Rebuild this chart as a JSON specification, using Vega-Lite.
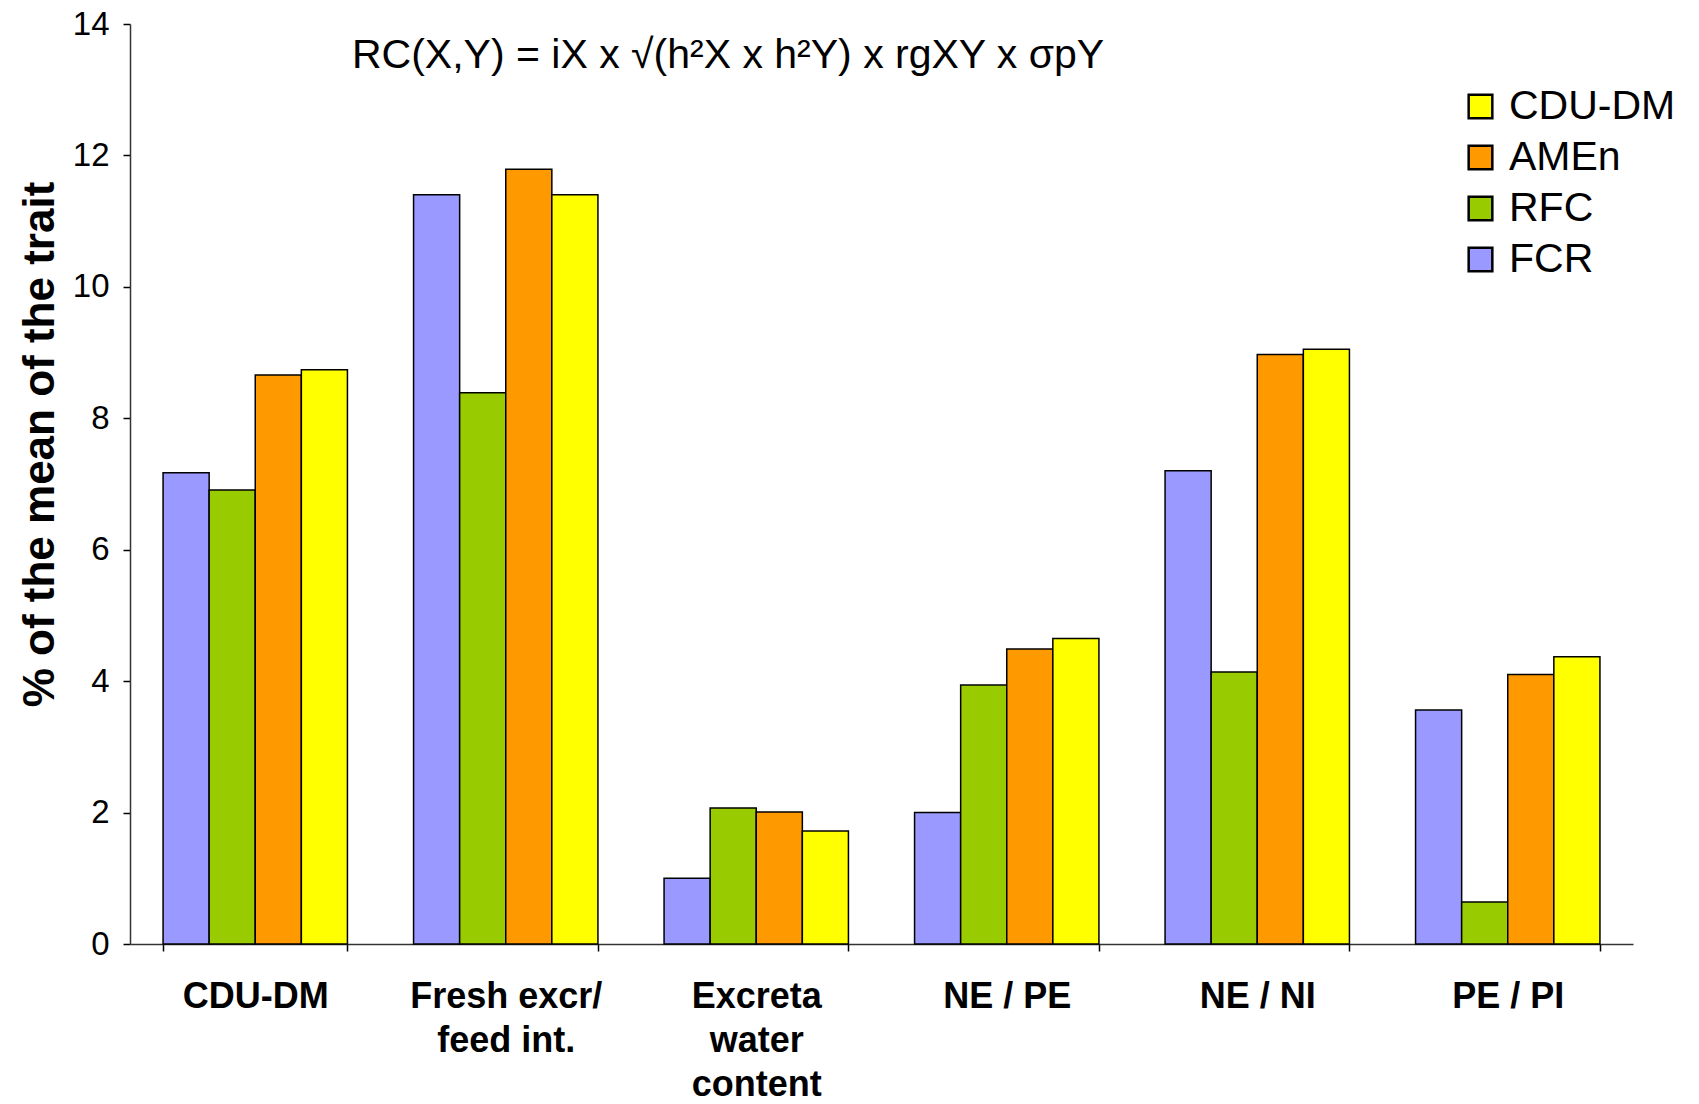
{
  "$schema": "https://vega.github.io/schema/vega-lite/v6.json",
  "autosize": {"type": "none"},
  "width": 1503,
  "height": 920,
  "padding": {"left": 130, "top": 24, "right": 66, "bottom": 160},
  "background": "white",
  "title": {
    "text": "RC(X,Y) = iX x √(h²X x h²Y) x rgXY x σpY",
    "anchor": "start",
    "frame": "group",
    "orient": "top",
    "baseline": "alphabetic",
    "offset": -66,
    "dx": 222,
    "dy": 35,
    "font": "Liberation Sans, Arial, sans-serif",
    "fontSize": 41,
    "fontWeight": "normal",
    "color": "black"
  },
  "data": {
    "values": [
      {"trait": "CDU-DM", "series": "FCR", "value": 7.17},
      {"trait": "CDU-DM", "series": "RFC", "value": 6.91},
      {"trait": "CDU-DM", "series": "AMEn", "value": 8.66},
      {"trait": "CDU-DM", "series": "CDU-DM", "value": 8.74},
      {"trait": "Fresh excr/|feed int.", "series": "FCR", "value": 11.4},
      {"trait": "Fresh excr/|feed int.", "series": "RFC", "value": 8.39},
      {"trait": "Fresh excr/|feed int.", "series": "AMEn", "value": 11.79},
      {"trait": "Fresh excr/|feed int.", "series": "CDU-DM", "value": 11.4},
      {"trait": "Excreta|water|content", "series": "FCR", "value": 1.0},
      {"trait": "Excreta|water|content", "series": "RFC", "value": 2.07},
      {"trait": "Excreta|water|content", "series": "AMEn", "value": 2.01},
      {"trait": "Excreta|water|content", "series": "CDU-DM", "value": 1.72},
      {"trait": "NE / PE", "series": "FCR", "value": 2.0},
      {"trait": "NE / PE", "series": "RFC", "value": 3.94},
      {"trait": "NE / PE", "series": "AMEn", "value": 4.49},
      {"trait": "NE / PE", "series": "CDU-DM", "value": 4.65},
      {"trait": "NE / NI", "series": "FCR", "value": 7.2},
      {"trait": "NE / NI", "series": "RFC", "value": 4.14},
      {"trait": "NE / NI", "series": "AMEn", "value": 8.97},
      {"trait": "NE / NI", "series": "CDU-DM", "value": 9.05},
      {"trait": "PE / PI", "series": "FCR", "value": 3.56},
      {"trait": "PE / PI", "series": "RFC", "value": 0.64},
      {"trait": "PE / PI", "series": "AMEn", "value": 4.1},
      {"trait": "PE / PI", "series": "CDU-DM", "value": 4.37}
    ]
  },
  "mark": {"type": "bar", "stroke": "black", "strokeWidth": 1.5},
  "encoding": {
    "x": {
      "field": "trait",
      "type": "nominal",
      "sort": null,
      "scale": {"paddingInner": 0.264, "paddingOuter": 0.132},
      "axis": {
        "title": null,
        "labelAngle": 0,
        "labelExpr": "split(datum.label, '|')",
        "labelFont": "Liberation Sans, Arial, sans-serif",
        "labelFontWeight": "bold",
        "labelFontSize": 36,
        "labelLineHeight": 44,
        "labelLimit": 400,
        "labelColor": "black",
        "labelPadding": 28,
        "labelBaseline": "top",
        "tickBand": "extent",
        "tickSize": 7,
        "tickColor": "black",
        "domainColor": "#333333",
        "domainWidth": 1.5,
        "tickWidth": 1.5
      }
    },
    "xOffset": {
      "field": "series",
      "type": "nominal",
      "sort": ["FCR", "RFC", "AMEn", "CDU-DM"],
      "scale": {"paddingInner": 0, "paddingOuter": 0}
    },
    "y": {
      "field": "value",
      "type": "quantitative",
      "scale": {"domain": [0, 14], "nice": false},
      "axis": {
        "values": [0, 2, 4, 6, 8, 10, 12, 14],
        "grid": false,
        "title": "% of the mean of the trait",
        "titleFont": "Liberation Sans, Arial, sans-serif",
        "titleFontWeight": "bold",
        "titleFontSize": 44,
        "titleColor": "black",
        "titleX": -90,
        "titleY": 420,
        "titleAngle": -90,
        "titleAlign": "center",
        "titleBaseline": "middle",
        "labelFont": "Liberation Sans, Arial, sans-serif",
        "labelFontSize": 33,
        "labelColor": "black",
        "labelPadding": 14,
        "tickSize": 7,
        "tickColor": "black",
        "tickWidth": 1.5,
        "domainColor": "#333333",
        "domainWidth": 1.5
      }
    },
    "color": {
      "field": "series",
      "type": "nominal",
      "scale": {
        "domain": ["FCR", "RFC", "AMEn", "CDU-DM"],
        "range": ["#9999FF", "#99CC00", "#FF9900", "#FFFF00"]
      },
      "legend": {
        "title": null,
        "values": ["CDU-DM", "AMEn", "RFC", "FCR"],
        "orient": "none",
        "legendX": 1330,
        "legendY": 62,
        "symbolType": "square",
        "symbolSize": 560,
        "symbolStrokeColor": "black",
        "symbolStrokeWidth": 2.5,
        "symbolOpacity": 1,
        "labelFont": "Liberation Sans, Arial, sans-serif",
        "labelFontSize": 41,
        "labelColor": "black",
        "labelOffset": 8,
        "rowPadding": 9,
        "labelLimit": 400
      }
    }
  },
  "config": {
    "view": {"stroke": null}
  }
}
